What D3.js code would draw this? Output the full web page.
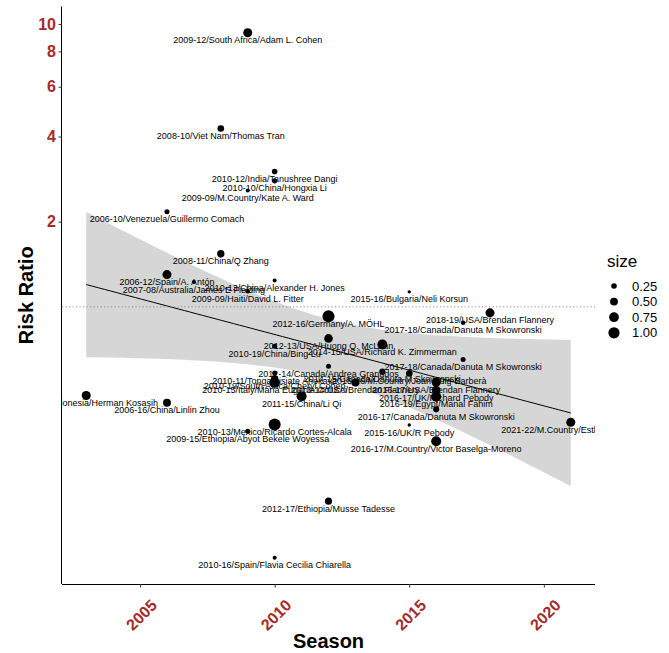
<!DOCTYPE html>
<html>
<head>
<meta charset="utf-8">
<script src="https://cdn.jsdelivr.net/npm/d3@7"></script>
<style>
  html, body { margin: 0; padding: 0; background: #fff; }
  svg { display: block; font-family: "Liberation Sans", Arial, sans-serif; }
</style>
</head>
<body>
<svg id="chart" width="669" height="653"></svg>
<script>
// Study labels: season / country / first author
const studyLabels = [
  "2009-12/South Africa/Adam L. Cohen",
  "2008-10/Viet Nam/Thomas Tran",
  "2010-12/India/Tanushree Dangi",
  "2010-10/China/Hongxia Li",
  "2009-09/M.Country/Kate A. Ward",
  "2006-10/Venezuela/Guillermo Comach",
  "2008-11/China/Q Zhang",
  "2006-12/Spain/A. Antón",
  "2007-08/Australia/James E Fielding",
  "2010-13/China/Alexander H. Jones",
  "2009-09/Haiti/David L. Fitter",
  "2015-16/Bulgaria/Neli Korsun",
  "2012-16/Germany/A. MÖHL",
  "2018-19/USA/Brendan Flannery",
  "2017-18/Canada/Danuta M Skowronski",
  "2012-13/USA/Huong Q. McLean",
  "2014-15/USA/Richard K. Zimmerman",
  "2010-19/China/Bing Lu",
  "2017-18/Canada/Danuta M Skowronski",
  "2012-14/Canada/Andrea Granados",
  "2010-11/Tonga/Lisiate Ahokava",
  "2010-19/South Africa/Cheryl Cohen",
  "2010-15/Italy/Maria Eugenia Colucci",
  "2014-15/Canada/Danuta M Skowronski",
  "2015-16/M.Country/Joan Puig-Barberà",
  "2013-14/USA/Brendan Flannery",
  "2016-17/USA/Brendan Flannery",
  "2016-17/UK/Richard Pebody",
  "2016-19/Egypt/Manal Fahim",
  "2016-17/Canada/Danuta M Skowronski",
  "2015-16/UK/R Pebody",
  "2016-17/M.Country/Victor Baselga-Moreno",
  "2021-22/M.Country/Esther Kissling",
  "2011-15/China/Li Qi",
  "2010-13/Mexico/Ricardo Cortes-Alcala",
  "2009-15/Ethiopia/Abyot Bekele Woyessa",
  "2003-16/Indonesia/Herman Kosasih",
  "2006-16/China/Linlin Zhou",
  "2012-17/Ethiopia/Musse Tadesse",
  "2010-16/Spain/Flavia Cecilia Chiarella"
];

// First year of each study season
const seasonStart = [
  2009, 2008, 2010, 2010, 2009, 2006, 2008, 2006, 2007, 2010,
  2009, 2015, 2012, 2018, 2017, 2012, 2014, 2010, 2017, 2012,
  2010, 2010, 2010, 2014, 2015, 2013, 2016, 2016, 2016, 2016,
  2015, 2016, 2021, 2011, 2010, 2009, 2003, 2006, 2012, 2010
];

// Risk ratio per study
const riskRatio = [
  9.31, 4.27, 3.01, 2.79, 2.58, 2.17, 1.54, 1.30, 1.225, 1.24,
  1.135, 1.13, 0.926, 0.952, 0.878, 0.773, 0.736, 0.726, 0.651, 0.616,
  0.583, 0.558, 0.540, 0.590, 0.581, 0.540, 0.541, 0.508, 0.481, 0.434,
  0.382, 0.335, 0.391, 0.483, 0.384, 0.363, 0.486, 0.458, 0.2056, 0.1297
];

// Study weight (point size)
const studySize = [
  0.65, 0.35, 0.25, 0.22, 0.13, 0.20, 0.43, 0.65, 0.13, 0.13,
  0.17, 0.09, 1.15, 0.65, 0.17, 0.60, 0.80, 0.20, 0.20, 0.20,
  0.20, 0.40, 0.90, 0.30, 0.35, 0.50, 0.65, 0.60, 0.80, 0.30,
  0.09, 0.80, 0.65, 0.80, 1.15, 0.20, 0.65, 0.50, 0.40, 0.13
];

const xTicks = [2005, 2010, 2015, 2020];
const yTicks = [2, 4, 6, 8, 10];
const legendBreaks = [0.25, 0.50, 0.75, 1.00];

const data = studyLabels.map((label, i) => ({
  label, season: seasonStart[i], rr: riskRatio[i], size: studySize[i]
}));

const svg = d3.select("#chart");
const panel = { left: 62, right: 595, top: 6.5, bottom: 584 };
const brown = "#A52A2A";

// scales with a 5% margin on each side, like ggplot's default expansion
const xExt = d3.extent(data, d => d.season);
const xPad = (xExt[1] - xExt[0]) * 0.05;
const x = d3.scaleLinear().domain([xExt[0] - xPad, xExt[1] + xPad]).range([panel.left, panel.right]);

const lExt = d3.extent(data, d => Math.log10(d.rr));
const lPad = (lExt[1] - lExt[0]) * 0.05;
const y = d3.scaleLog().domain([Math.pow(10, lExt[0] - lPad), Math.pow(10, lExt[1] + lPad)])
  .range([panel.bottom, panel.top]);

const r = d3.scaleSqrt().domain([0, 1]).range([0, 5.6]);

// weighted linear fit of log10(risk ratio) on season (weights = study size),
// with 95% confidence band
const n = data.length;
const W = d3.sum(data, d => d.size);
const mx = d3.sum(data, d => d.size * d.season) / W;
const my = d3.sum(data, d => d.size * Math.log10(d.rr)) / W;
const sxx = d3.sum(data, d => d.size * (d.season - mx) ** 2);
const sxy = d3.sum(data, d => d.size * (d.season - mx) * (Math.log10(d.rr) - my));
const slope = sxy / sxx;
const icpt = my - slope * mx;
const rss = d3.sum(data, d => d.size * (Math.log10(d.rr) - (icpt + slope * d.season)) ** 2);
const sigma = Math.sqrt(rss / (n - 2));
const df = n - 2, z = 1.959964;
const tq = z + (z ** 3 + z) / (4 * df) + (5 * z ** 5 + 16 * z ** 3 + 3 * z) / (96 * df * df);
const fitX = d3.range(80).map(i => xExt[0] + (xExt[1] - xExt[0]) * i / 79);
const fit = fitX.map(s => {
  const fv = icpt + slope * s;
  const se = sigma * Math.sqrt(1 / W + (s - mx) ** 2 / sxx);
  return { s, fv, lo: fv - tq * se, hi: fv + tq * se };
});

svg.append("defs").append("clipPath").attr("id", "panel-clip")
  .append("rect")
  .attr("x", panel.left).attr("y", panel.top)
  .attr("width", panel.right - panel.left).attr("height", panel.bottom - panel.top);

const plot = svg.append("g").attr("clip-path", "url(#panel-clip)");

plot.append("path")
  .datum(fit)
  .attr("d", d3.area().x(d => x(d.s)).y0(d => y(Math.pow(10, d.lo))).y1(d => y(Math.pow(10, d.hi))))
  .attr("fill", "#999999").attr("fill-opacity", 0.4);

plot.append("path")
  .datum(fit)
  .attr("d", d3.line().x(d => x(d.s)).y(d => y(Math.pow(10, d.fv))))
  .attr("fill", "none").attr("stroke", "#000").attr("stroke-width", 1);

// reference line at risk ratio 1
plot.append("line")
  .attr("x1", panel.left).attr("x2", panel.right)
  .attr("y1", y(1)).attr("y2", y(1))
  .attr("stroke", "#8c8c8c").attr("stroke-width", 1)
  .attr("stroke-dasharray", "1.2,2.3");

plot.append("g").selectAll("circle")
  .data(data).join("circle")
  .attr("cx", d => x(d.season)).attr("cy", d => y(d.rr))
  .attr("r", d => r(d.size))
  .attr("fill", "#000");

plot.append("g").selectAll("text")
  .data(data).join("text")
  .attr("x", d => x(d.season)).attr("y", d => y(d.rr) + 7.6)
  .attr("text-anchor", "middle").attr("dominant-baseline", "central")
  .attr("font-size", 9).attr("fill", "#000")
  .text(d => d.label);

// axes
const xAxis = svg.append("g").attr("transform", `translate(0,${panel.bottom})`)
  .call(d3.axisBottom(x).tickValues(xTicks).tickSize(3.5).tickFormat(d3.format("d")));
xAxis.select(".domain").attr("d", `M${panel.left},0.5H${panel.right}`).attr("stroke", "#000");
xAxis.selectAll(".tick line").attr("stroke", "#333");
xAxis.selectAll(".tick text")
  .attr("font-size", 16).attr("font-weight", "bold").attr("fill", brown)
  .attr("text-anchor", "middle").attr("dy", null).attr("y", 0)
  .attr("dominant-baseline", "central")
  .attr("transform", "translate(1,31) rotate(-45)");

const yAxis = svg.append("g").attr("transform", `translate(${panel.left},0)`)
  .call(d3.axisLeft(y).tickValues(yTicks).tickSize(3.5).tickFormat(d3.format("d")));
yAxis.select(".domain").attr("d", `M-0.5,${panel.top}V${panel.bottom}`).attr("stroke", "#000");
yAxis.selectAll(".tick line").attr("stroke", "#333");
yAxis.selectAll(".tick text")
  .attr("font-size", 16).attr("font-weight", "bold").attr("fill", brown)
  .attr("x", -6);

svg.append("text")
  .attr("x", (panel.left + panel.right) / 2).attr("y", 648)
  .attr("text-anchor", "middle").attr("font-size", 20).attr("font-weight", "bold")
  .text("Season");

svg.append("text")
  .attr("transform", `translate(33,${(panel.top + panel.bottom) / 2}) rotate(-90)`)
  .attr("text-anchor", "middle").attr("font-size", 20).attr("font-weight", "bold")
  .text("Risk Ratio");

// size legend
const legend = svg.append("g");
legend.append("text").attr("x", 607).attr("y", 267).attr("font-size", 17).text("size");
legendBreaks.forEach((b, i) => {
  const cy = 286 + i * 15.6;
  legend.append("circle").attr("cx", 614).attr("cy", cy).attr("r", r(b)).attr("fill", "#000");
  legend.append("text").attr("x", 632).attr("y", cy).attr("dominant-baseline", "central")
    .attr("font-size", 13).text(d3.format(".2f")(b));
});
</script>
</body>
</html>
